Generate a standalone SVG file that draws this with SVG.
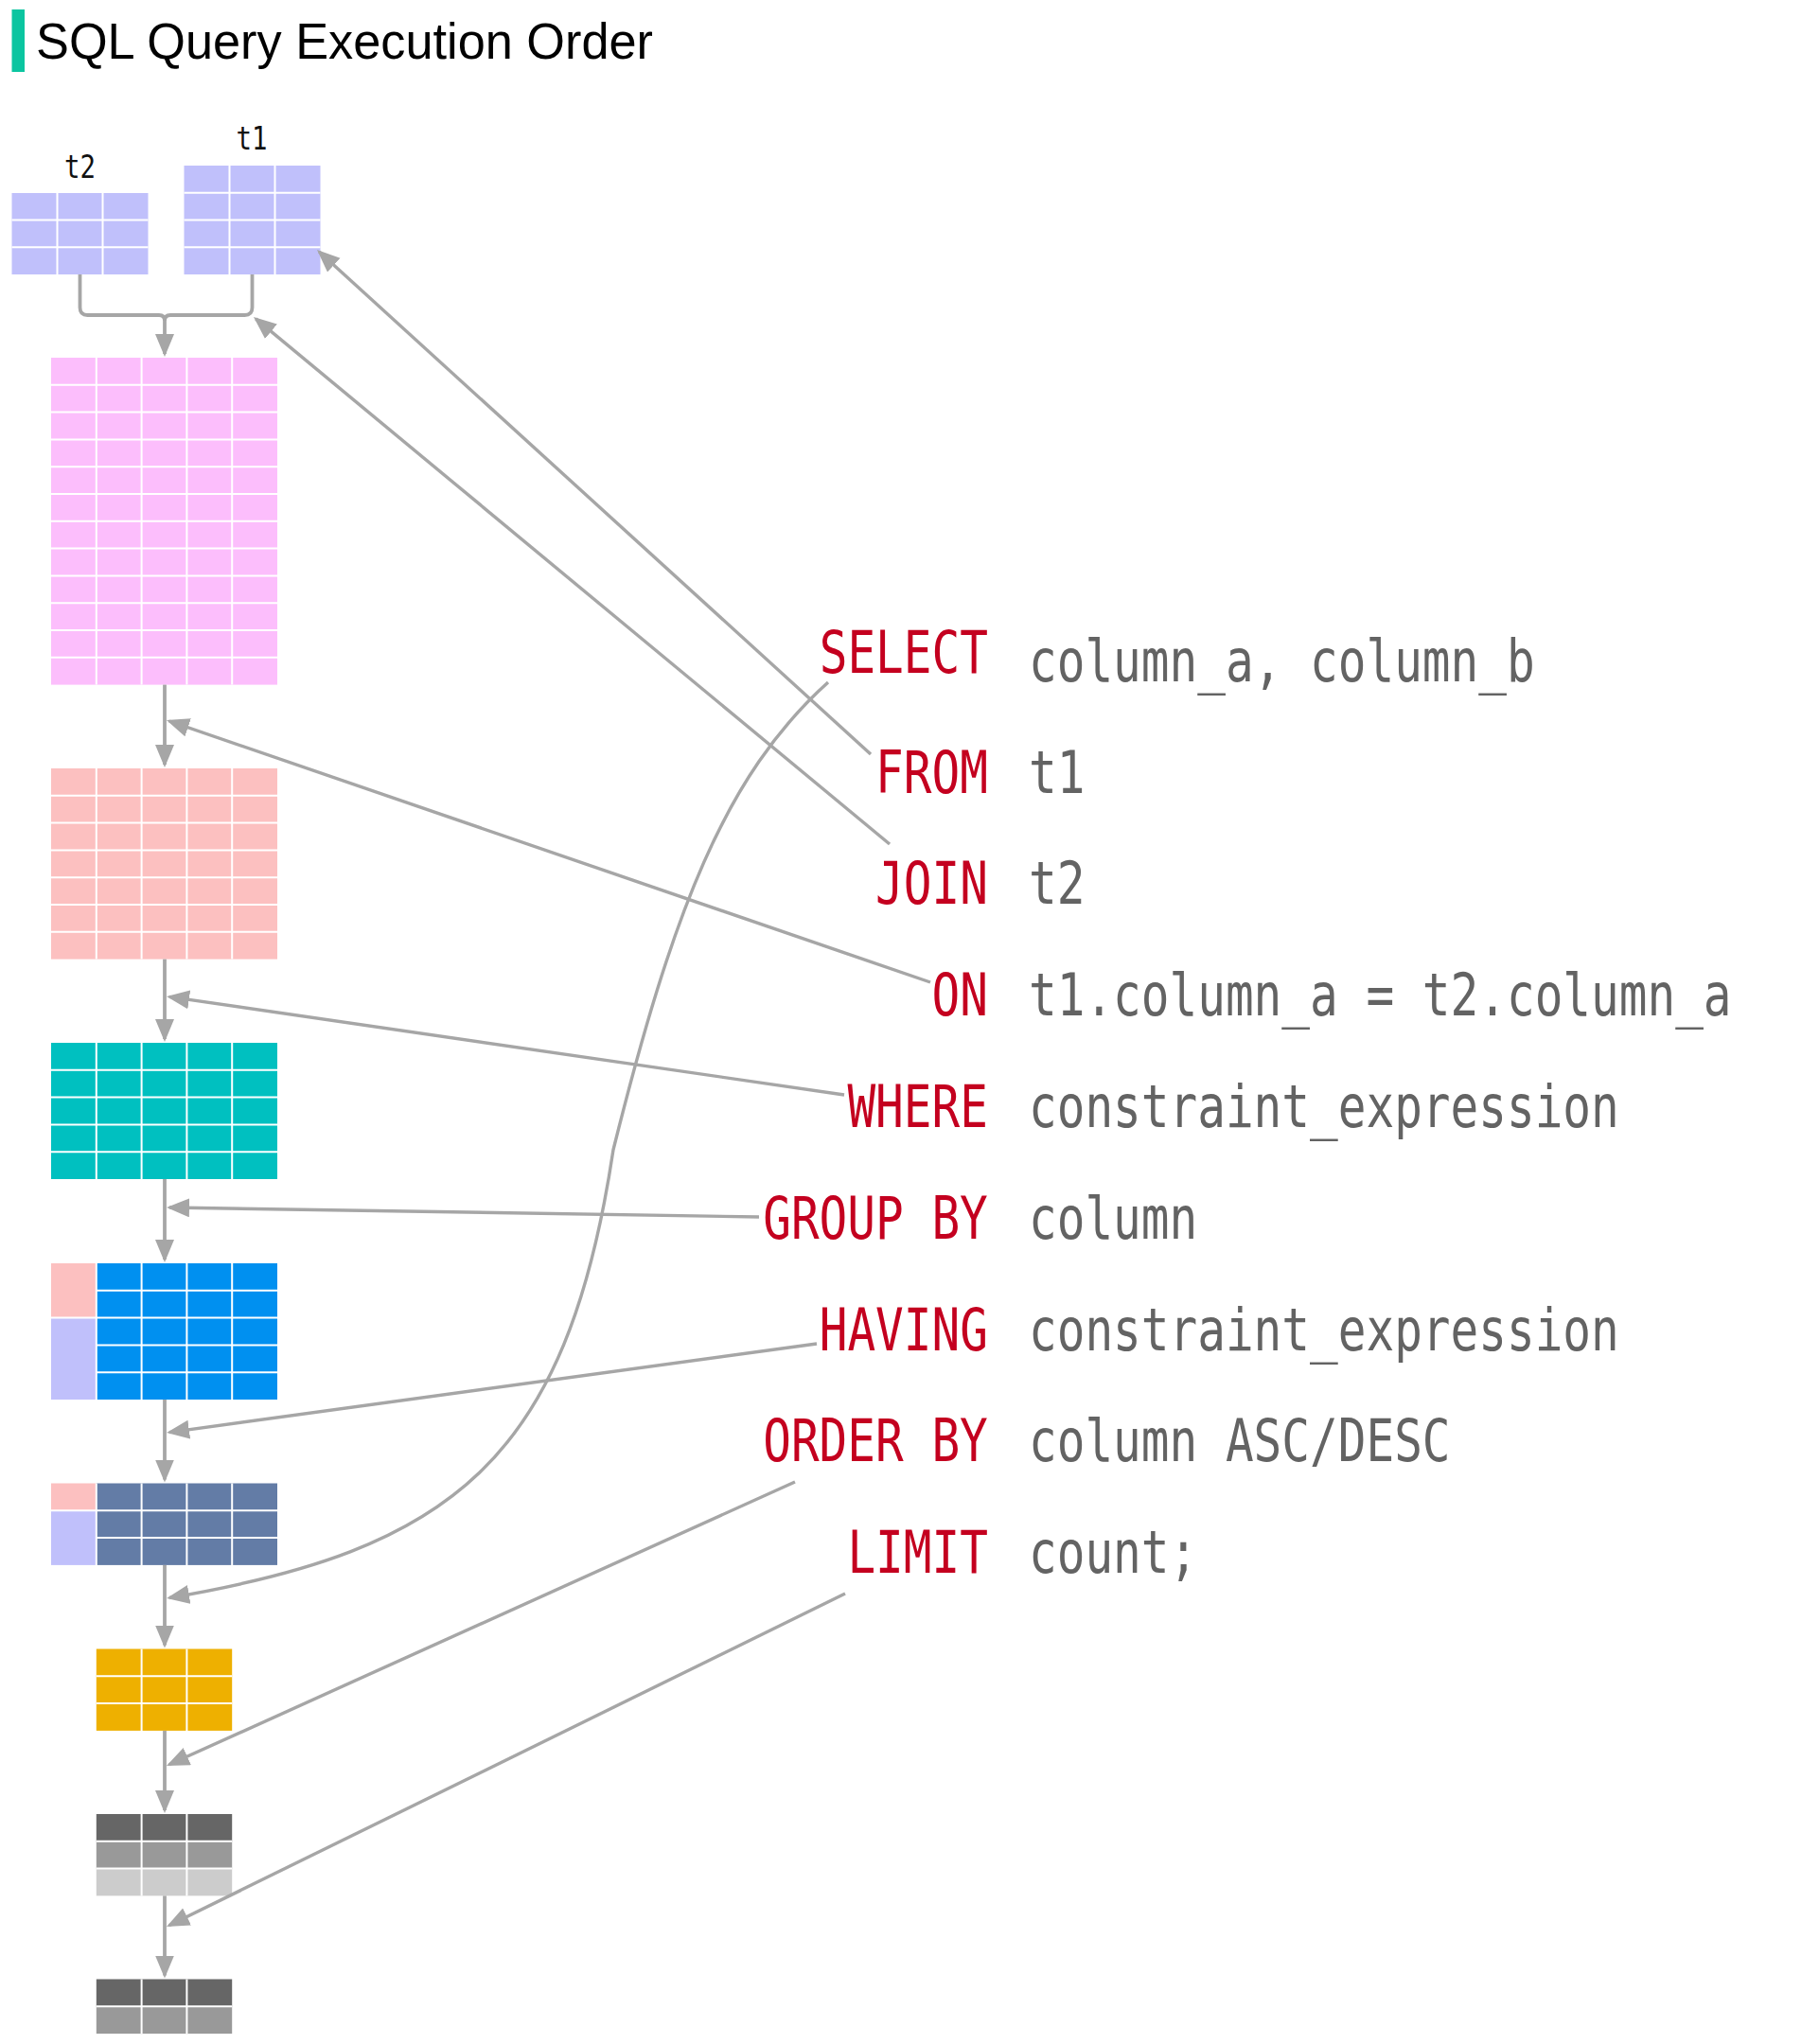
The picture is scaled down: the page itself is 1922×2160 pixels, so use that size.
<svg xmlns="http://www.w3.org/2000/svg" width="1922" height="2160" viewBox="0 0 1922 2160">
<defs>
<style>
.grid{stroke:#ffffff;stroke-width:2;fill:none}
.conn{stroke:#a6a6a6;stroke-width:3.4;fill:none}
.spine{stroke:#a6a6a6;stroke-width:3.8;fill:none}
.kw{font-family:"DejaVu Sans Mono","Liberation Mono",monospace;font-size:62px;fill:#c4001f}
.code{font-family:"DejaVu Sans Mono","Liberation Mono",monospace;font-size:62px;fill:#636363}
.lbl{font-family:"DejaVu Sans Mono","Liberation Mono",monospace;font-size:34px;fill:#111111}
.lav{fill:#c0c0fb}
.pink{fill:#fcbefc}
.salmon{fill:#fcc0c0}
.teal{fill:#00c0c0}
.blue{fill:#0090f0}
.slate{fill:#637ca6}
.yellow{fill:#eeb000}
.g1{fill:#666666}
.g2{fill:#999999}
.g3{fill:#cccccc}
</style>
<marker id="ah" markerUnits="userSpaceOnUse" markerWidth="28" markerHeight="22" refX="21" refY="10" orient="auto">
<path d="M0,0 L24,10 L0,20 Z" fill="#a6a6a6"/>
</marker>
</defs>
<rect x="0" y="0" width="1922" height="2160" fill="#ffffff"/>

<g id="title">
<rect x="12.5" y="10" width="13.5" height="66" fill="#0bc5a0"/>
<text x="38" y="62" font-family="'Liberation Sans',Arial,sans-serif" font-size="53" fill="#000000" textLength="652" lengthAdjust="spacingAndGlyphs">SQL Query Execution Order</text>
</g>

<g id="table-t2">
<rect class="lav" x="12.5" y="204" width="144" height="86"/>
<path class="grid" d="M60.5,204V290M108.5,204V290M12.5,232.5H156.5M12.5,261.25H156.5"/>
<text class="lbl" transform="translate(68,188) scale(0.806,1)">t2</text>
</g>

<g id="table-t1">
<rect class="lav" x="194.5" y="175" width="144" height="115"/>
<path class="grid" d="M242.5,175V290M290.5,175V290M194.5,203.75H338.5M194.5,232.5H338.5M194.5,261.25H338.5"/>
<text class="lbl" transform="translate(249.5,158) scale(0.806,1)">t1</text>
</g>

<g id="table-joined">
<rect class="pink" x="54" y="378" width="239" height="345.6"/>
<path class="grid" d="M101.8,378V723.6M149.6,378V723.6M197.4,378V723.6M245.2,378V723.6M54,406.8H293M54,435.6H293M54,464.4H293M54,493.2H293M54,522H293M54,550.8H293M54,579.6H293M54,608.4H293M54,637.2H293M54,666H293M54,694.8H293"/>
</g>

<g id="table-on">
<rect class="salmon" x="54" y="812" width="239" height="201.6"/>
<path class="grid" d="M101.8,812V1013.6M149.6,812V1013.6M197.4,812V1013.6M245.2,812V1013.6M54,840.8H293M54,869.6H293M54,898.4H293M54,927.2H293M54,956H293M54,984.8H293"/>
</g>

<g id="table-where">
<rect class="teal" x="54" y="1102" width="239" height="144"/>
<path class="grid" d="M101.8,1102V1246M149.6,1102V1246M197.4,1102V1246M245.2,1102V1246M54,1130.8H293M54,1159.6H293M54,1188.4H293M54,1217.2H293"/>
</g>

<g id="table-groupby">
<rect class="blue" x="101.8" y="1335" width="191.2" height="144"/>
<rect class="salmon" x="54" y="1335" width="47.8" height="57.6"/>
<rect class="lav" x="54" y="1392.6" width="47.8" height="86.4"/>
<path class="grid" d="M101.8,1335V1479M149.6,1335V1479M197.4,1335V1479M245.2,1335V1479M101.8,1363.8H293M54,1392.6H293M101.8,1421.4H293M101.8,1450.2H293"/>
</g>

<g id="table-having">
<rect class="slate" x="101.8" y="1567.5" width="191.2" height="86.4"/>
<rect class="salmon" x="54" y="1567.5" width="47.8" height="28.8"/>
<rect class="lav" x="54" y="1596.3" width="47.8" height="57.6"/>
<path class="grid" d="M101.8,1567.5V1653.9M149.6,1567.5V1653.9M197.4,1567.5V1653.9M245.2,1567.5V1653.9M54,1596.3H293M101.8,1625.1H293"/>
</g>

<g id="table-select">
<rect class="yellow" x="101.8" y="1742.5" width="143.4" height="86.4"/>
<path class="grid" d="M149.6,1742.5V1828.9M197.4,1742.5V1828.9M101.8,1771.3H245.2M101.8,1800.1H245.2"/>
</g>

<g id="table-orderby">
<rect class="g1" x="101.8" y="1917" width="143.4" height="28.8"/>
<rect class="g2" x="101.8" y="1945.8" width="143.4" height="28.8"/>
<rect class="g3" x="101.8" y="1974.6" width="143.4" height="28.8"/>
<path class="grid" d="M149.6,1917V2003.4M197.4,1917V2003.4M101.8,1945.8H245.2M101.8,1974.6H245.2"/>
</g>

<g id="table-limit">
<rect class="g1" x="101.8" y="2091.5" width="143.4" height="28.8"/>
<rect class="g2" x="101.8" y="2120.3" width="143.4" height="28.8"/>
<path class="grid" d="M149.6,2091.5V2149.1M197.4,2091.5V2149.1M101.8,2120.3H245.2"/>
</g>

<g id="connectors">
<path class="spine" d="M84.5,290V325Q84.5,333 92.5,333H168Q174,333 174,339"/>
<path class="spine" d="M266.5,290V325Q266.5,333 258.5,333H180Q174,333 174,339"/>
<path class="spine" d="M174,336V374" marker-end="url(#ah)"/>
<path class="spine" d="M174,723.6V808" marker-end="url(#ah)"/>
<path class="spine" d="M174,1013.6V1098" marker-end="url(#ah)"/>
<path class="spine" d="M174,1246V1331" marker-end="url(#ah)"/>
<path class="spine" d="M174,1479V1563.5" marker-end="url(#ah)"/>
<path class="spine" d="M174,1653.9V1738.5" marker-end="url(#ah)"/>
<path class="spine" d="M174,1828.9V1913" marker-end="url(#ah)"/>
<path class="spine" d="M174,2003.4V2087.5" marker-end="url(#ah)"/>
<path class="conn" d="M920,797L337.2,266" marker-end="url(#ah)"/>
<path class="conn" d="M940,892L270.3,336.9" marker-end="url(#ah)"/>
<path class="conn" d="M983,1038L178.8,762" marker-end="url(#ah)"/>
<path class="conn" d="M892,1157L179,1053.4" marker-end="url(#ah)"/>
<path class="conn" d="M802,1286L179,1276" marker-end="url(#ah)"/>
<path class="conn" d="M863,1420L179,1513.6" marker-end="url(#ah)"/>
<path class="conn" d="M875,721C765,820 710.5,965 648,1215C598.5,1545 476,1638 179,1688.5" marker-end="url(#ah)"/>
<path class="conn" d="M840,1566L178.7,1864.8" marker-end="url(#ah)"/>
<path class="conn" d="M893,1684L178.7,2034.7" marker-end="url(#ah)"/>
</g>

<g id="clause-select">
<text class="kw" transform="translate(865.7,711) scale(0.796,1)">SELECT</text>
<text class="code" transform="translate(1087,720) scale(0.796,1)">column_a, column_b</text>
</g>
<g id="clause-from">
<text class="kw" transform="translate(925.1,837.5) scale(0.796,1)">FROM</text>
<text class="code" transform="translate(1087,837.5) scale(0.796,1)">t1</text>
</g>
<g id="clause-join">
<text class="kw" transform="translate(925.1,955) scale(0.796,1)">JOIN</text>
<text class="code" transform="translate(1087,955) scale(0.796,1)">t2</text>
</g>
<g id="clause-on">
<text class="kw" transform="translate(984.6,1073) scale(0.796,1)">ON</text>
<text class="code" transform="translate(1087,1073) scale(0.796,1)">t1.column_a = t2.column_a</text>
</g>
<g id="clause-where">
<text class="kw" transform="translate(895.4,1191) scale(0.796,1)">WHERE</text>
<text class="code" transform="translate(1087,1191) scale(0.796,1)">constraint_expression</text>
</g>
<g id="clause-groupby">
<text class="kw" transform="translate(806.2,1308.5) scale(0.796,1)">GROUP BY</text>
<text class="code" transform="translate(1087,1308.5) scale(0.796,1)">column</text>
</g>
<g id="clause-having">
<text class="kw" transform="translate(865.7,1426.5) scale(0.796,1)">HAVING</text>
<text class="code" transform="translate(1087,1426.5) scale(0.796,1)">constraint_expression</text>
</g>
<g id="clause-orderby">
<text class="kw" transform="translate(806.2,1544) scale(0.796,1)">ORDER BY</text>
<text class="code" transform="translate(1087,1544) scale(0.796,1)">column ASC/DESC</text>
</g>
<g id="clause-limit">
<text class="kw" transform="translate(895.4,1662) scale(0.796,1)">LIMIT</text>
<text class="code" transform="translate(1087,1662) scale(0.796,1)">count;</text>
</g>
</svg>
